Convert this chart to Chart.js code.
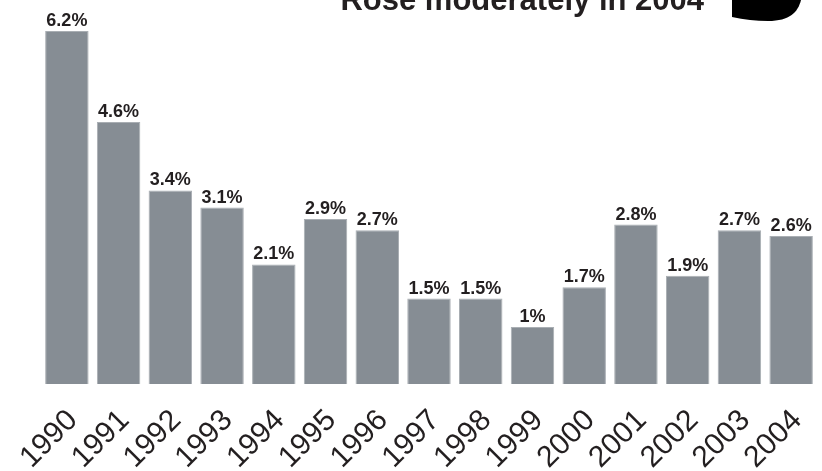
<!DOCTYPE html>
<html>
<head>
<meta charset="utf-8">
<script src="https://cdn.jsdelivr.net/npm/chart.js@4.4.1/dist/chart.umd.min.js"></script>
<style>
  html, body { margin: 0; padding: 0; background: #fff; }
  #wrap { width: 822px; height: 471px; position: relative; }
</style>
</head>
<body>
<div id="wrap"><canvas id="rateChart"></canvas></div>
<script>
const years = ['1990', '1991', '1992', '1993', '1994', '1995', '1996', '1997',
               '1998', '1999', '2000', '2001', '2002', '2003', '2004'];
const rates = [6.2, 4.6, 3.4, 3.1, 2.1, 2.9, 2.7, 1.5, 1.5, 1, 1.7, 2.8, 1.9, 2.7, 2.6];
const rateLabels = ['6.2%', '4.6%', '3.4%', '3.1%', '2.1%', '2.9%', '2.7%', '1.5%',
                    '1.5%', '1%', '1.7%', '2.8%', '1.9%', '2.7%', '2.6%'];
const headline = 'Rose moderately in 2004';

// value labels above each bar
const valueLabels = {
    id: 'valueLabels',
    afterDatasetsDraw(chart) {
        const ctx = chart.ctx;
        const meta = chart.getDatasetMeta(0);
        ctx.save();
        ctx.fillStyle = '#231f20';
        ctx.font = 'bold 18px "Liberation Sans", Arial, sans-serif';
        ctx.textAlign = 'center';
        ctx.textBaseline = 'alphabetic';
        meta.data.forEach((bar, i) => {
            ctx.fillText(rateLabels[i], bar.x, bar.y - 5);
        });
        ctx.restore();
    }
};

// headline running off the top edge, plus the black corner badge
const headlineDraw = {
    id: 'headlineDraw',
    afterDraw(chart) {
        const ctx = chart.ctx;
        ctx.save();
        ctx.fillStyle = '#231f20';
        ctx.font = 'bold 31px "Liberation Sans", Arial, sans-serif';
        ctx.textAlign = 'right';
        ctx.textBaseline = 'alphabetic';
        ctx.fillText(headline, 704, 10);

        ctx.fillStyle = '#000';
        ctx.beginPath();
        ctx.moveTo(732, 0);
        ctx.lineTo(732, 17);
        ctx.quadraticCurveTo(750, 21, 768, 21);
        ctx.bezierCurveTo(790, 21, 798, 12, 801, 0);
        ctx.closePath();
        ctx.fill();
        ctx.restore();
    }
};

new Chart(document.getElementById('rateChart').getContext('2d'), {
    type: 'bar',
    data: {
        labels: years,
        datasets: [{
            data: rates,
            backgroundColor: '#868d94',
            borderColor: '#a9aeb3',
            borderWidth: 1,
            barPercentage: 0.84,
            categoryPercentage: 1
        }]
    },
    options: {
        responsive: true,
        maintainAspectRatio: false,
        animation: false,
        layout: { padding: { top: 31, left: 41, right: 5, bottom: 0 } },
        plugins: {
            legend: { display: false },
            tooltip: { enabled: false }
        },
        scales: {
            x: {
                afterFit(scale) {
                    scale.height = 87;
                    scale.paddingLeft = 0;
                    scale.paddingRight = 0;
                },
                grid: { display: false, drawTicks: false },
                border: { display: false },
                ticks: {
                    color: '#231f20',
                    font: { family: '"Liberation Sans", Arial, sans-serif', size: 30 },
                    minRotation: 45,
                    maxRotation: 45,
                    autoSkip: false,
                    padding: 19,
                    labelOffset: 6
                }
            },
            y: {
                display: false,
                min: 0,
                max: 6.2
            }
        }
    },
    plugins: [valueLabels, headlineDraw]
});
</script>
</body>
</html>
